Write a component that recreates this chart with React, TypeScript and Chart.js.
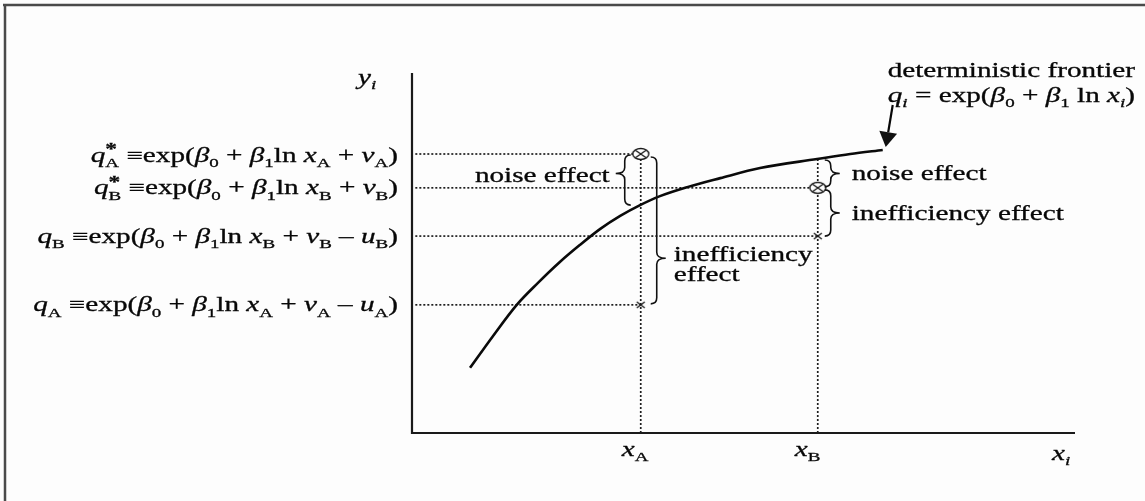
import React, { useEffect, useRef } from 'react';
import { Chart, registerables } from 'chart.js';

Chart.register(...registerables);

// ---- data (abstract units: x 0..100, y 0..100) ----
const frontierX = [8.75, 12.2, 15.8, 19.0, 22.3, 25.3, 28.4, 31.4, 34.4, 37.4, 41.5, 46.5, 52.5, 61.1, 66.1, 71.0];
const frontierY = [18.1, 26.9, 35.6, 41.7, 47.5, 52.2, 56.7, 60.3, 63.3, 65.8, 68.3, 70.8, 73.6, 76.1, 77.5, 78.6];
const xA = 34.5;
const xB = 61.2;
const qStarA = 77.5;
const qStarB = 68.1;
const qB = 54.7;
const qA = 35.6;
const frontierAtA = 63.3;
const frontierAtB = 76.1;

const FONT = '"Liberation Serif", "DejaVu Serif", serif';
const SX = 1.46;
const FS = 20;

type Seg = [string, string];

const eq = (q: string, sub: string, star: boolean, u: boolean): Seg[] => {
  const s: Seg[] = [[q, 'i']];
  if (star) s.push(['*', 'p']);
  s.push([sub, 's']);
  s.push([' \u2261exp(', 'n'], ['\u03B2', 'i'], ['0', 's'], [' + ', 'n'], ['\u03B2', 'i'], ['1', 's'],
    ['ln ', 'n'], ['x', 'i'], [sub, 's'], [' + ', 'n'], ['\u03BD', 'i'], [sub, 's']);
  if (u) s.push([' \u2013 ', 'n'], ['u', 'i'], [sub, 's']);
  s.push([')', 'n']);
  return s;
};

const labelQStarA = eq('q', 'A', true, false);
const labelQStarB = eq('q', 'B', true, false);
const labelQB = eq('q', 'B', false, true);
const labelQA = eq('q', 'A', false, true);
const labelFrontier: Seg[] = [['q', 'i'], ['i', 'si'], [' = exp(', 'n'], ['\u03B2', 'i'], ['0', 's'], [' + ', 'n'],
  ['\u03B2', 'i'], ['1', 's'], [' ln ', 'n'], ['x', 'i'], ['i', 'si'], [')', 'n']];
const labelY: Seg[] = [['y', 'i'], ['i', 'si']];
const labelXA: Seg[] = [['x', 'i'], ['A', 's']];
const labelXB: Seg[] = [['x', 'i'], ['B', 's']];
const labelXI: Seg[] = [['x', 'i'], ['i', 'si']];

function fontFor(style: string) {
  if (style === 'i') return `italic ${FS}px ${FONT}`;
  if (style === 's') return `${Math.round(FS * 0.66)}px ${FONT}`;
  if (style === 'si') return `italic ${Math.round(FS * 0.66)}px ${FONT}`;
  if (style === 'p') return `bold ${Math.round(FS * 0.8)}px ${FONT}`;
  return `${FS}px ${FONT}`;
}

function segW(ctx: CanvasRenderingContext2D, s: Seg) {
  ctx.font = fontFor(s[1]);
  return ctx.measureText(s[0]).width * SX;
}

function richWidth(ctx: CanvasRenderingContext2D, segs: Seg[]) {
  let w = 0;
  let pend = 0;
  for (const s of segs) {
    const sw = segW(ctx, s);
    if (s[1] === 'p') { pend = sw; continue; }
    w += Math.max(sw, pend);
    pend = 0;
  }
  return w;
}

function drawRich(ctx: CanvasRenderingContext2D, segs: Seg[], x: number, yc: number, align: string) {
  const total = richWidth(ctx, segs);
  let cx = align === 'right' ? x - total : x;
  const base = yc + FS * 0.33;
  let pend = 0;
  ctx.fillStyle = '#080808';
  ctx.strokeStyle = '#080808';
  ctx.lineWidth = 0.3;
  ctx.textBaseline = 'alphabetic';
  ctx.textAlign = 'left';
  for (const s of segs) {
    const sw = segW(ctx, s);
    let by = base;
    if (s[1] === 's' || s[1] === 'si') by = base + FS * 0.27;
    if (s[1] === 'p') by = base - FS * 0.38;
    ctx.font = fontFor(s[1]);
    ctx.save();
    ctx.translate(cx, by);
    ctx.scale(SX, 1);
    ctx.fillText(s[0], 0, 0);
    ctx.strokeText(s[0], 0, 0);
    ctx.restore();
    if (s[1] === 'p') { pend = sw; continue; }
    cx += Math.max(sw, pend);
    pend = 0;
  }
}

function brace(ctx: CanvasRenderingContext2D, x: number, y1: number, y2: number, ym: number, dir: number) {
  const h = 6, r = 6, t = 9;
  ctx.beginPath();
  ctx.moveTo(x - dir * h, y1);
  ctx.quadraticCurveTo(x, y1, x, y1 + r);
  ctx.lineTo(x, ym - r);
  ctx.quadraticCurveTo(x, ym, x + dir * t, ym);
  ctx.moveTo(x + dir * t, ym);
  ctx.quadraticCurveTo(x, ym, x, ym + r);
  ctx.lineTo(x, y2 - r);
  ctx.quadraticCurveTo(x, y2, x - dir * h, y2);
  ctx.stroke();
}

function makeOtimes() {
  const c = document.createElement('canvas');
  c.width = 20; c.height = 14;
  const g = c.getContext('2d')!;
  g.fillStyle = '#fff';
  g.strokeStyle = '#1a1a1a';
  g.lineWidth = 1.4;
  g.beginPath();
  g.ellipse(10, 7, 8, 5.5, 0, 0, Math.PI * 2);
  g.fill();
  g.stroke();
  g.beginPath();
  g.moveTo(5, 3.5); g.lineTo(15, 10.5);
  g.moveTo(15, 3.5); g.lineTo(5, 10.5);
  g.stroke();
  return c;
}

function makeCross() {
  const c = document.createElement('canvas');
  c.width = 12; c.height = 10;
  const g = c.getContext('2d')!;
  g.strokeStyle = '#1a1a1a';
  g.lineWidth = 1.4;
  g.beginPath();
  g.moveTo(2, 2); g.lineTo(10, 8);
  g.moveTo(10, 2); g.lineTo(2, 8);
  g.stroke();
  return c;
}

const decorPlugin = {
  id: 'decor',
  beforeDraw(chart: any) {
    const ctx = chart.ctx as CanvasRenderingContext2D;
    ctx.save();
    ctx.fillStyle = '#fdfdfd';
    ctx.fillRect(0, 0, chart.width, chart.height);
    // outer frame (top and left)
    ctx.strokeStyle = '#4a4a4a';
    ctx.lineWidth = 2.5;
    ctx.beginPath();
    ctx.moveTo(3, 5); ctx.lineTo(chart.width, 5);
    ctx.moveTo(5, 5); ctx.lineTo(5, chart.height);
    ctx.stroke();
    // axes
    const a = chart.chartArea;
    ctx.strokeStyle = '#1a1a1a';
    ctx.lineWidth = 2.2;
    ctx.beginPath();
    ctx.moveTo(a.left, a.top); ctx.lineTo(a.left, a.bottom);
    ctx.lineTo(a.right, a.bottom);
    ctx.stroke();
    ctx.restore();
  },
  afterDatasetsDraw(chart: any) {
    const ctx = chart.ctx as CanvasRenderingContext2D;
    const xs = chart.scales.x, ys = chart.scales.y;
    const px = (v: number) => xs.getPixelForValue(v);
    const py = (v: number) => ys.getPixelForValue(v);
    const a = chart.chartArea;
    ctx.save();
    ctx.strokeStyle = '#111';
    ctx.lineWidth = 1.6;

    // braces
    const aNoiseX = px(xA) - 16;
    const aN1 = py(qStarA) + 1, aN2 = py(frontierAtA);
    const aNm = aN1 + (aN2 - aN1) * 0.37;
    brace(ctx, aNoiseX, aN1, aN2, aNm, -1);

    const aIneX = px(xA) + 16;
    const aI1 = py(qStarA) + 3, aI2 = py(qA) - 1;
    const aIm = aI1 + (aI2 - aI1) * 0.69;
    brace(ctx, aIneX, aI1, aI2, aIm, 1);

    const bX = px(xB) + 13;
    const bN1 = py(frontierAtB) + 1, bN2 = py(qStarB) - 1;
    const bNm = (bN1 + bN2) / 2;
    brace(ctx, bX, bN1, bN2, bNm, 1);
    const bI1 = py(qStarB) + 2, bI2 = py(qB);
    const bIm = (bI1 + bI2) / 2;
    brace(ctx, bX, bI1, bI2, bIm, 1);

    // brace texts
    drawRich(ctx, [['noise effect', 'n']], aNoiseX - 15, aNm + 2, 'right');
    drawRich(ctx, [['inefficiency', 'n']], aIneX + 17, aIm - 4, 'left');
    drawRich(ctx, [['effect', 'n']], aIneX + 17, aIm + 16, 'left');
    drawRich(ctx, [['noise effect', 'n']], bX + 21, bNm, 'left');
    drawRich(ctx, [['inefficiency effect', 'n']], bX + 21, bIm, 'left');

    // left labels
    const lx = a.left - 14;
    drawRich(ctx, labelQStarA, lx, py(qStarA) + 1, 'right');
    drawRich(ctx, labelQStarB, lx, py(qStarB), 'right');
    drawRich(ctx, labelQB, lx, py(qB), 'right');
    drawRich(ctx, labelQA, lx, py(qA), 'right');

    // axis labels
    drawRich(ctx, labelY, a.left - 54, a.top + 4, 'left');
    drawRich(ctx, labelXA, px(xA) - 19, a.bottom + 16, 'left');
    drawRich(ctx, labelXB, px(xB) - 23, a.bottom + 16, 'left');
    drawRich(ctx, labelXI, a.right - 23, a.bottom + 20, 'left');

    // frontier annotation
    const fx = px(frontierX[frontierX.length - 1]);
    const fy = py(frontierY[frontierY.length - 1]);
    drawRich(ctx, [['deterministic frontier', 'n']], a.right + 60, fy - 80, 'right');
    drawRich(ctx, labelFrontier, a.right + 60, fy - 55, 'right');

    // arrow
    const tipX = fx + 3, tipY = fy - 3;
    const tailX = tipX + 7, tailY = tipY - 42;
    const dx = tipX - tailX, dy = tipY - tailY;
    const L = Math.hypot(dx, dy);
    const ux = dx / L, uy = dy / L;
    const hl = 15, hw = 9;
    const bx = tipX - ux * hl, by = tipY - uy * hl;
    ctx.lineWidth = 2.2;
    ctx.beginPath();
    ctx.moveTo(tailX, tailY);
    ctx.lineTo(bx, by);
    ctx.stroke();
    ctx.fillStyle = '#111';
    ctx.beginPath();
    ctx.moveTo(tipX, tipY);
    ctx.lineTo(bx - uy * hw, by + ux * hw);
    ctx.lineTo(bx + uy * hw, by - ux * hw);
    ctx.closePath();
    ctx.fill();
    ctx.restore();
  },
};

const dotted = (pts: { x: number; y: number }[]) => ({
  data: pts,
  showLine: true,
  borderColor: '#1e1e1e',
  borderWidth: 1.7,
  borderDash: [2, 2],
  pointRadius: 0,
  order: 2,
});

export default function App() {
  const ref = useRef<HTMLCanvasElement | null>(null);
  useEffect(() => {
    document.body.style.margin = '0';
    const canvas = ref.current!;
    const otimes = makeOtimes();
    const cross = makeCross();
    const chart = new Chart(canvas, {
      type: 'scatter',
      data: {
        datasets: [
          {
            data: [{ x: xA, y: qStarA }, { x: xB, y: qStarB }],
            pointStyle: otimes as any,
            pointRadius: 8,
            showLine: false,
            order: 0,
          },
          {
            data: [{ x: xA, y: qA }, { x: xB, y: qB }],
            pointStyle: cross as any,
            pointRadius: 5,
            showLine: false,
            order: 0,
          },
          {
            data: frontierX.map((x, i) => ({ x, y: frontierY[i] })),
            showLine: true,
            borderColor: '#0a0a0a',
            borderWidth: 2.6,
            pointRadius: 0,
            cubicInterpolationMode: 'monotone',
            order: 1,
          } as any,
          dotted([{ x: 0.5, y: qStarA }, { x: xA, y: qStarA }]),
          dotted([{ x: 0.5, y: qStarB }, { x: xB, y: qStarB }]),
          dotted([{ x: 0.5, y: qB }, { x: xB, y: qB }]),
          dotted([{ x: 0.5, y: qA }, { x: xA, y: qA }]),
          dotted([{ x: xA, y: 0 }, { x: xA, y: qStarA }]),
          dotted([{ x: xB, y: 0 }, { x: xB, y: frontierAtB }]),
        ],
      },
      options: {
        responsive: false,
        animation: false,
        layout: { padding: { left: 412, right: 70, top: 73, bottom: 68 } },
        scales: {
          x: { type: 'linear', min: 0, max: 100, display: false },
          y: { type: 'linear', min: 0, max: 100, display: false },
        },
        plugins: { legend: { display: false }, tooltip: { enabled: false } },
        events: [],
      },
      plugins: [decorPlugin],
    });
    return () => chart.destroy();
  }, []);
  return <canvas ref={ref} width={1145} height={501} style={{ display: 'block' }} />;
}
